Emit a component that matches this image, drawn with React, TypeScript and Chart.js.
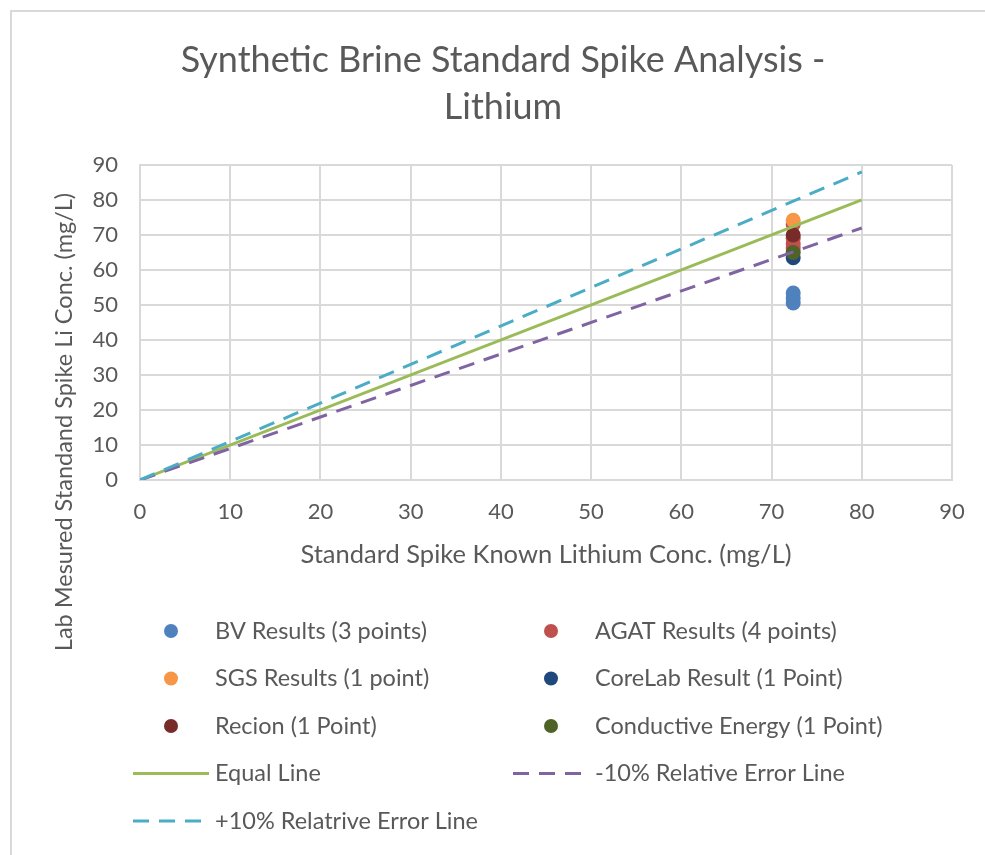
import React, { useEffect, useRef } from "react";
import { Chart, registerables } from "chart.js";

Chart.register(...registerables);

// Known concentration of the synthetic brine standard spike (mg/L)
const knownLithium = 72.4;

// Lab measured results (mg/L)
const bvResults = [53.4, 52.0, 50.6];
const agatResults = [73.0, 69.0, 67.5, 66.3];
const sgsResults = [74.2];
const coreLabResults = [63.5];
const recionResults = [70.0];
const conductiveResults = [65.0];

// Reference lines
const refLineX = [0, 80];
const equalLineY = [0, 80];
const minusTenY = [0, 72];
const plusTenY = [0, 88];

const axisMin = 0;
const axisMax = 90;
const axisStep = 10;

const FONT = "Lato, 'Open Sans', sans-serif";
const TEXT_COLOR = "#595959";
const GRID_COLOR = "#d9d9d9";

const pointSeries = [
  { label: "BV Results (3 points)", values: bvResults, color: "#4F81BD" },
  { label: "AGAT Results (4 points)", values: agatResults, color: "#C0504D" },
  { label: "SGS Results (1 point)", values: sgsResults, color: "#F79646" },
  { label: "CoreLab Result (1 Point)", values: coreLabResults, color: "#1F497D" },
  { label: "Recion (1 Point)", values: recionResults, color: "#772C2A" },
  { label: "Conductive Energy (1 Point)", values: conductiveResults, color: "#4F6228" },
];

const lineSeries = [
  { label: "Equal Line", values: equalLineY, color: "#9BBB59", dash: [] as number[] },
  { label: "-10% Relative Error Line", values: minusTenY, color: "#8064A2", dash: [16, 10] },
  { label: "+10% Relatrive Error Line", values: plusTenY, color: "#4BACC6", dash: [16, 10] },
];

// Two-column legend beneath the plot, plus the outer frame and vertical axis title
const sheetDecor = {
  id: "sheetDecor",
  afterDraw(chart: any) {
    const ctx: CanvasRenderingContext2D = chart.ctx;
    ctx.save();
    // frame
    ctx.strokeStyle = "#d9d9d9";
    ctx.lineWidth = 2;
    ctx.strokeRect(11, 11, chart.width + 10, chart.height + 10);

    // vertical axis title
    ctx.save();
    ctx.translate(64, 422);
    ctx.rotate(-Math.PI / 2);
    ctx.fillStyle = TEXT_COLOR;
    ctx.font = `23.5px ${FONT}`;
    ctx.textAlign = "center";
    ctx.textBaseline = "middle";
    ctx.fillText("Lab Mesured Standand Spike Li Conc. (mg/L)", 0, 0);
    ctx.restore();

    // legend
    const datasets = chart.data.datasets;
    datasets.forEach((ds: any, i: number) => {
      const col = i % 2;
      const row = Math.floor(i / 2);
      const y = 631 + row * 47.5;
      const textX = col ? 595 : 215;
      if (ds.showLine) {
        ctx.save();
        ctx.strokeStyle = ds.borderColor;
        ctx.lineWidth = 3;
        ctx.setLineDash(ds.borderDash || []);
        ctx.beginPath();
        ctx.moveTo(textX - 82, y);
        ctx.lineTo(textX - 6, y);
        ctx.stroke();
        ctx.restore();
      } else {
        ctx.beginPath();
        ctx.fillStyle = ds.backgroundColor;
        ctx.arc(textX - 44, y, 7, 0, Math.PI * 2);
        ctx.fill();
      }
      ctx.fillStyle = TEXT_COLOR;
      ctx.font = `23.5px ${FONT}`;
      ctx.textAlign = "left";
      ctx.textBaseline = "middle";
      ctx.fillText(ds.label, textX, y);
    });
    ctx.restore();
  },
};

export default function App() {
  const canvasRef = useRef<HTMLCanvasElement | null>(null);

  useEffect(() => {
    if (!canvasRef.current) return;
    const total = pointSeries.length + lineSeries.length;

    const datasets: any[] = [
      ...pointSeries.map((s, i) => ({
        label: s.label,
        data: s.values.map((v) => ({ x: knownLithium, y: v })),
        backgroundColor: s.color,
        borderColor: s.color,
        pointRadius: 7.5,
        pointBorderWidth: 0,
        showLine: false,
        order: total - i,
      })),
      ...lineSeries.map((s, j) => ({
        label: s.label,
        data: refLineX.map((x, k) => ({ x, y: s.values[k] })),
        borderColor: s.color,
        backgroundColor: s.color,
        borderWidth: 3,
        borderDash: s.dash,
        pointRadius: 0,
        showLine: true,
        fill: false,
        order: total - (pointSeries.length + j),
      })),
    ];

    const tickFont = { family: FONT, size: 22 };

    const chart = new Chart(canvasRef.current, {
      type: "scatter",
      data: { datasets },
      plugins: [sheetDecor],
      options: {
        responsive: false,
        animation: false,
        devicePixelRatio: 1,
        layout: { padding: { left: 54, right: 33, top: 0, bottom: 280 } },
        plugins: {
          legend: { display: false },
          tooltip: { enabled: false },
          title: {
            display: true,
            text: ["Synthetic Brine Standard Spike Analysis -", "Lithium"],
            color: TEXT_COLOR,
            font: { family: FONT, size: 36, weight: "normal", lineHeight: 1.305 },
            padding: { top: 36.5, bottom: 34.5 },
          },
        },
        scales: {
          x: {
            type: "linear",
            min: axisMin,
            max: axisMax,
            afterFit: (scale: any) => {
              scale.height = 95;
            },
            ticks: { stepSize: axisStep, color: TEXT_COLOR, font: tickFont, padding: 19 },
            grid: { color: GRID_COLOR, lineWidth: 2, drawTicks: false },
            border: { color: GRID_COLOR, width: 2 },
            title: {
              display: true,
              text: "Standard Spike Known Lithium Conc. (mg/L)",
              color: TEXT_COLOR,
              font: { family: FONT, size: 25.5 },
              padding: { top: 0, bottom: 5 },
            },
          },
          y: {
            type: "linear",
            min: axisMin,
            max: axisMax,
            afterFit: (scale: any) => {
              scale.width = 86;
            },
            ticks: { stepSize: axisStep, color: TEXT_COLOR, font: tickFont, padding: 22 },
            grid: { color: GRID_COLOR, lineWidth: 2, drawTicks: false },
            border: { color: GRID_COLOR, width: 2 },
          },
        },
      } as any,
    });

    return () => chart.destroy();
  }, []);

  return (
    <div style={{ position: "fixed", left: 0, top: 0, width: 985, height: 855, overflow: "hidden", background: "#fff" }}>
      <canvas ref={canvasRef} width={985} height={855} style={{ display: "block" }} />
    </div>
  );
}
